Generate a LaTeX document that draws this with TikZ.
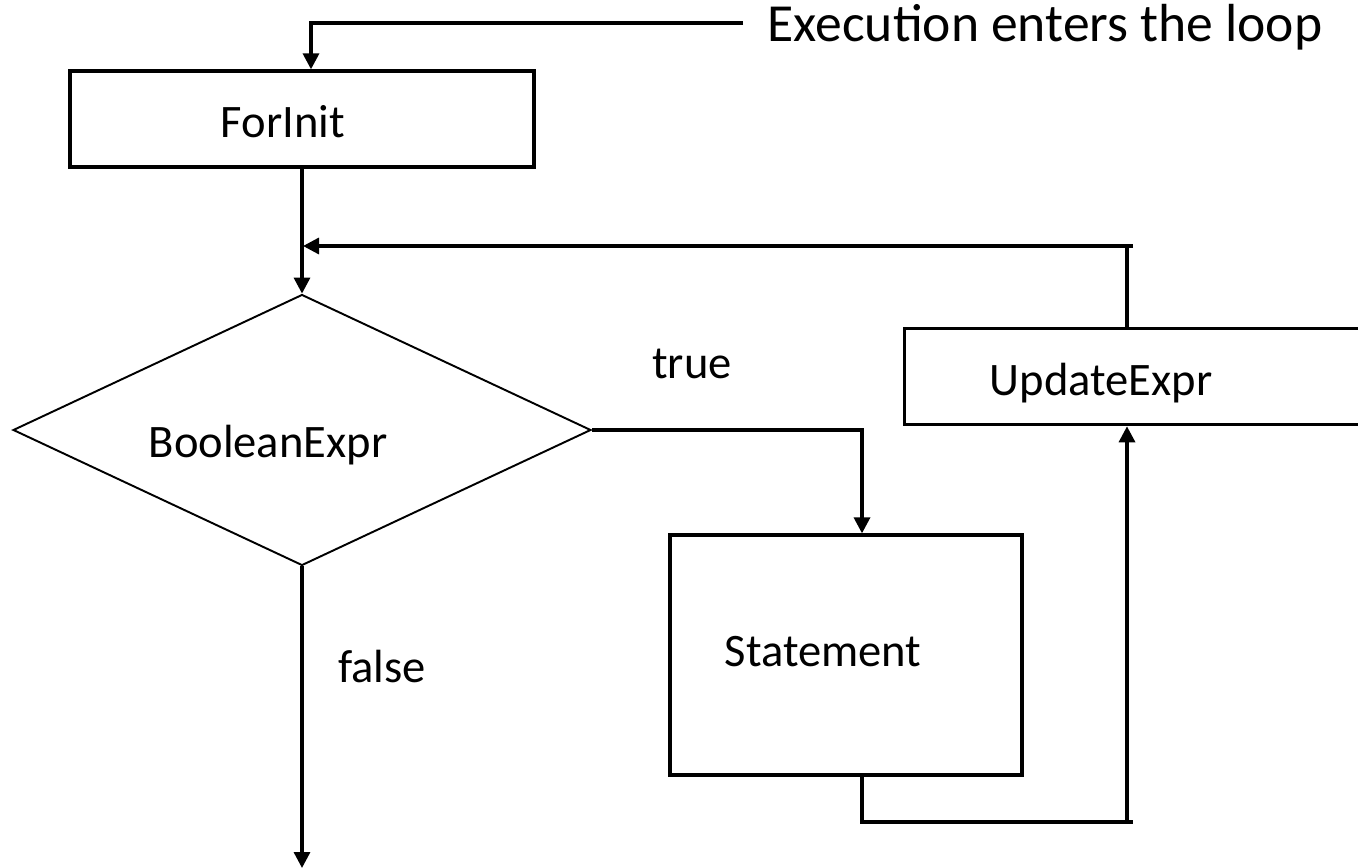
\documentclass[tikz,border=0pt]{standalone}
\usepackage{fontspec}
\setmainfont{Carlito}
\usetikzlibrary{arrows.meta, shapes.geometric, calc}

\begin{document}
\begin{tikzpicture}[x=0.02cm, y=-0.02cm,
  line/.style={line width=1.9pt},
  arr/.style={line width=1.9pt, -{Triangle[length=0.32cm, width=0.32cm]}},
  box/.style={draw, line width=1.9pt, inner sep=0pt},
  txt/.style={anchor=base, inner sep=0pt, font=\fontsize{26.5}{32}\selectfont}]
  \useasboundingbox (0,0) rectangle (1358,868);

  % boxes
  \node[box, minimum width=9.28cm, minimum height=1.92cm] (forinit) at (302,119) {};
  \node[draw, diamond, line width=1.1pt, inner sep=0pt, aspect=2.13,
        minimum width=11.56cm, minimum height=5.42cm] (cond) at (302,430) {};
  \node[box, minimum width=7.04cm, minimum height=4.8cm] (stmt) at (846,655) {};
  \node[box, anchor=north west, minimum width=10cm, minimum height=1.92cm] (upd) at (903,327) {};

  % texts
  \node[txt, font=\fontsize{30.5}{36}\selectfont] (entrytxt) at (1045,42) {Execution enters the loop};
  \node[txt] (forinittxt) at (283,138) {ForInit};
  \node[txt] (condtxt) at (268,457) {BooleanExpr};
  \node[txt] (truetxt) at (692,378) {true};
  \node[txt] (falsetxt) at (382,682) {false};
  \node[txt] (stmttxt) at (823,666) {Statement};
  \node[txt] (updtxt) at (1101,395) {UpdateExpr};

  % free ends
  \coordinate (entry) at (743,23);
  \coordinate (rail) at (1127,246);
  \coordinate (stub) at (1133,246);
  \coordinate (low) at (1133,822);
  \coordinate (exit) at (302,868);

  % connectors
  \draw[arr] (entry) -| ([xshift=0.18cm]forinit.north);
  \draw[arr] (forinit.south) -- (cond.north);
  \draw[arr] (cond.east) -| ([xshift=0.32cm]stmt.north);
  \draw[line] ([xshift=0.32cm]stmt.south) |- (low);
  \draw[arr] (low -| rail) -- (upd.south -| rail);
  \draw[line] (upd.north -| rail) -- (rail);
  \draw[arr] (stub) -- ([xshift=0.02cm]cond.north |- rail);
  \draw[arr] (cond.south) -- (exit);
\end{tikzpicture}
\end{document}
